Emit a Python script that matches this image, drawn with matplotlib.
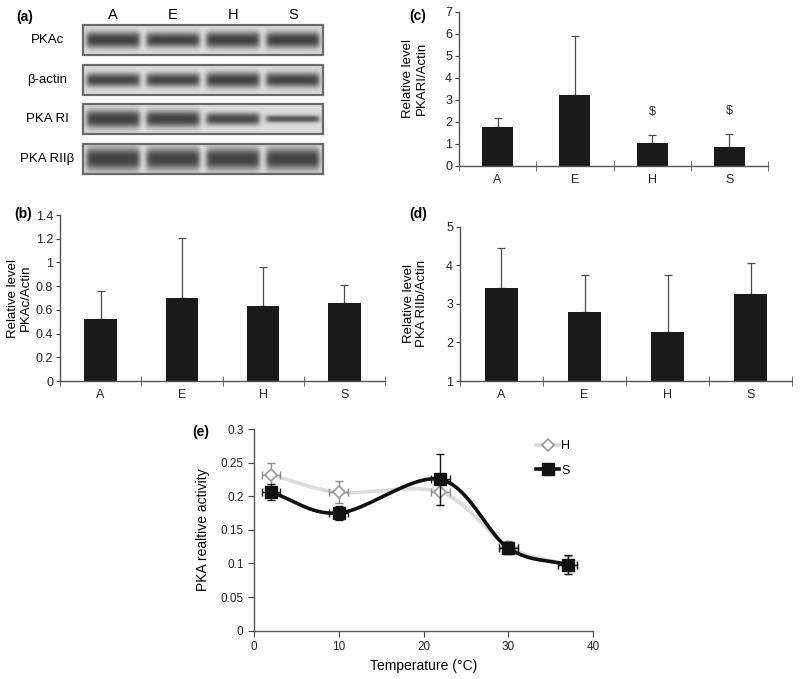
import numpy as np
import matplotlib
matplotlib.use('Agg')
import matplotlib.pyplot as plt
from matplotlib.patches import Rectangle
from matplotlib.lines import Line2D
from matplotlib.ticker import FuncFormatter

plt.rcParams['font.family'] = ['Liberation Sans', 'DejaVu Sans']

# ---------------- data ----------------
lanes = ['A', 'E', 'H', 'S']
blot_rows = ['PKAc', 'β-actin', 'PKA RI', 'PKA RIIβ']
# relative band density
band_pkac = [1.0, 0.92, 1.0, 1.0]
band_actin = [0.85, 0.85, 0.95, 0.9]
band_ri = [1.1, 1.0, 0.75, 0.45]
band_riib = [1.4, 1.35, 1.35, 1.35]

groups = ['A', 'E', 'H', 'S']
pkac_mean = [0.52, 0.70, 0.63, 0.66]
pkac_err = [0.24, 0.51, 0.33, 0.15]
pkari_mean = [1.78, 3.22, 1.05, 0.87]
pkari_err = [0.40, 2.70, 0.37, 0.59]
pkari_sig = ['', '', '$', '$']
riib_mean = [3.40, 2.78, 2.27, 3.25]
riib_err = [1.06, 0.98, 1.47, 0.80]

temp = [2, 10, 22, 30, 37]
temp_err = [1.1, 1.1, 1.1, 1.1, 1.1]
act_h = [0.232, 0.206, 0.206, 0.125, 0.098]
act_h_err = [0.018, 0.016, 0.019, 0.008, 0.013]
act_s = [0.206, 0.175, 0.225, 0.123, 0.098]
act_s_err = [0.012, 0.010, 0.038, 0.009, 0.014]

W, H = 800, 679
fig = plt.figure(figsize=(W / 100, H / 100), dpi=100)


def px_axes(left, top, right, bottom):
    return fig.add_axes([left / W, 1 - bottom / H, (right - left) / W, (bottom - top) / H])


def smooth(xs, ys, n=40):
    # catmull-rom curve through the points (like excel smoothed lines)
    p = np.column_stack([xs, ys]).astype(float)
    p = np.vstack([2 * p[0] - p[1], p, 2 * p[-1] - p[-2]])
    t = np.linspace(0, 1, n)[:, None]
    out = []
    for i in range(1, len(p) - 2):
        p0, p1, p2, p3 = p[i - 1], p[i], p[i + 1], p[i + 2]
        seg = 0.5 * (2 * p1 + (-p0 + p2) * t + (2 * p0 - 5 * p1 + 4 * p2 - p3) * t ** 2
                     + (-p0 + 3 * p1 - 3 * p2 + p3) * t ** 3)
        out.append(seg)
    out = np.vstack(out)
    return out[:, 0], out[:, 1]


gfmt = FuncFormatter(lambda v, pos: f'{v:g}')


def style_axes(ax):
    for s in ['top', 'right']:
        ax.spines[s].set_visible(False)
    for s in ['left', 'bottom']:
        ax.spines[s].set_color('#555555')
        ax.spines[s].set_linewidth(1.0)
    ax.tick_params(colors='#444444', labelcolor='#222222')


def bar_panel(ax, means, errs, ymin, ymax, ylabel, labx, laby=0.5):
    x = np.arange(len(groups))
    ax.bar(x, np.array(means) - ymin, bottom=ymin, width=0.4, color='#1a1a1a', zorder=2)
    ax.errorbar(x, means, yerr=[np.zeros(len(errs)), errs], fmt='none', ecolor='#4d4d4d',
                elinewidth=0.9, capsize=3, capthick=0.9, zorder=1)
    ax.set_xlim(-0.5, len(groups) - 0.5)
    ax.set_ylim(ymin, ymax)
    ax.set_yticks(np.arange(ymin, ymax + 1e-9, 1 if ymax > 2 else 0.2))
    ax.yaxis.set_major_formatter(gfmt)
    ax.set_xticks(x)
    ax.set_xticklabels(groups)
    ax.set_xticks(np.arange(-0.5, len(groups)), minor=True)
    style_axes(ax)
    ax.tick_params(axis='x', which='major', length=0, pad=6, labelsize=9)
    ax.tick_params(axis='x', which='minor', direction='inout', length=7, color='#555555')
    ax.tick_params(axis='y', direction='out', length=3, labelsize=9, pad=2)
    ax.set_ylabel(ylabel, fontsize=9.5, linespacing=1.2)
    ax.yaxis.set_label_coords(labx, laby)


# ---------------- (a) blot ----------------
ax_a = px_axes(83, 20, 323, 179)
ax_a.axis('off')
bands = [band_pkac, band_actin, band_ri, band_riib]
gx = np.linspace(-0.5, 3.5, 480)
for r, (name, dens) in enumerate(zip(blot_rows, bands)):
    gy = np.linspace(r - 0.38, r + 0.38, 60)
    X, Y = np.meshgrid(gx, gy)
    dark = np.zeros_like(X)
    for i, d in enumerate(dens):
        horiz = 1 / (1 + np.exp((np.abs(X - i) - 0.44) / 0.025))
        vert = np.exp(-(np.abs(Y - r - 0.01) / (0.2 * d)) ** 2.5)
        dark = np.maximum(dark, horiz * vert * min(1.0, 0.75 + 0.25 * d))
    img = 0.86 - 0.6 * dark
    ax_a.imshow(img, cmap='gray', vmin=0, vmax=1, extent=(-0.5, 3.5, r + 0.38, r - 0.38),
                aspect='auto', interpolation='bilinear')
    ax_a.add_patch(Rectangle((-0.5, r - 0.38), 4, 0.76, facecolor='none',
                             edgecolor='#6a6a6a', lw=1.6, clip_on=False))
    ax_a.text(-1.1, r, name, ha='center', va='center', fontsize=9.5)
for i, lab in enumerate(lanes):
    ax_a.text(i, -0.63, lab, ha='center', va='center', fontsize=10.5)
ax_a.set_xlim(-0.5, 3.5)
ax_a.set_ylim(3.5, -0.5)

# ---------------- (b) ----------------
ax_b = px_axes(60, 215, 385, 381)
bar_panel(ax_b, pkac_mean, pkac_err, 0, 1.4, 'Relative level\nPKAc/Actin', -0.085)

# ---------------- (c) ----------------
ax_c = px_axes(459, 11.7, 768, 166)
bar_panel(ax_c, pkari_mean, pkari_err, 0, 7, 'Relative level\nPKARI/Actin', -0.1, 0.57)
for i, s in enumerate(pkari_sig):
    if s:
        ax_c.text(i, pkari_mean[i] + pkari_err[i] + 1.05, s, ha='center', va='center',
                  fontsize=9, color='#222222')

# ---------------- (d) ----------------
ax_d = px_axes(460, 226.7, 792, 381)
bar_panel(ax_d, riib_mean, riib_err, 1, 5, 'Relative level\nPKA RIIb/Actin', -0.095)

# ---------------- (e) ----------------
ax_e = px_axes(254, 429, 593, 630.7)
ax_e.errorbar(temp, act_h, yerr=act_h_err, xerr=temp_err, fmt='none', ecolor='#8a8a8a',
              elinewidth=1, capsize=3, capthick=1, zorder=2)
hx, hy = smooth(temp, act_h)
ax_e.plot(hx, hy, color='#dcdcdc', lw=2.6, zorder=1)
ax_e.plot(temp, act_h, ls='none', marker='D', ms=6.5, mfc='white', mec='#9a9a9a', mew=1.2, zorder=3)

ax_e.errorbar(temp, act_s, yerr=act_s_err, xerr=temp_err, fmt='none', ecolor='#1a1a1a',
              elinewidth=1, capsize=3, capthick=1, zorder=4)
sx, sy = smooth(temp, act_s)
ax_e.plot(sx, sy, color='#111111', lw=2.6, zorder=5)
ax_e.plot(temp, act_s, ls='none', marker='s', ms=8.5, color='#111111', zorder=6)

ax_e.set_xlim(0, 40)
ax_e.set_ylim(0, 0.3)
ax_e.set_xticks([0, 10, 20, 30, 40])
ax_e.set_yticks(np.arange(0, 0.301, 0.05))
ax_e.yaxis.set_major_formatter(gfmt)
style_axes(ax_e)
ax_e.tick_params(axis='both', direction='out', length=4, labelsize=8.5)
ax_e.set_xlabel('Temperature (°C)', fontsize=10, labelpad=4)
ax_e.set_ylabel('PKA realtive activity', fontsize=10)
ax_e.yaxis.set_label_coords(-0.13, 0.5)

handles = [Line2D([], [], color='#dcdcdc', lw=2.6, marker='D', ms=6.5, mfc='white',
                  mec='#9a9a9a', mew=1.2),
           Line2D([], [], color='#111111', lw=2.6, marker='s', ms=8.5)]
ax_e.legend(handles, ['H', 'S'], loc='upper left', bbox_to_anchor=(0.8, 1.0), frameon=False,
            fontsize=9, handlelength=1.8, handletextpad=0.2, labelspacing=1.0)

# panel letters
for lab, x, y in [('(a)', 16, 17), ('(b)', 14, 214), ('(c)', 409, 16), ('(d)', 409, 214), ('(e)', 192, 432)]:
    fig.text(x / W, 1 - y / H, lab, fontsize=10, fontweight='bold', ha='left', va='center')

fig.savefig('out.png', dpi=100)
